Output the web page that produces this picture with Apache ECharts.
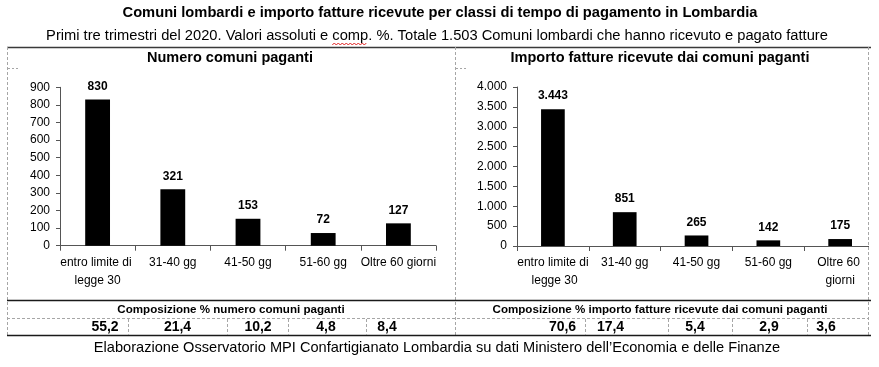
<!DOCTYPE html>
<html><head><meta charset="utf-8">
<script src="https://cdn.jsdelivr.net/npm/echarts@6/dist/echarts.min.js"></script>
<style>html,body{margin:0;padding:0;background:#fff}#c{width:879px;height:367px}</style>
</head><body><div id="c"></div>
<script>
// ---- data ----
const categories = ['entro limite di legge 30', '31-40 gg', '41-50 gg', '51-60 gg', 'Oltre 60 giorni'];
const numeroComuni = [830, 321, 153, 72, 127];
const importoFatture = [3443, 851, 265, 142, 175];
const compNumero = [55.2, 21.4, 10.2, 4.8, 8.4];
const compImporto = [70.6, 17.4, 5.4, 2.9, 3.6];
const leftAxisMax = 900, leftAxisStep = 100;
const rightAxisMax = 4000, rightAxisStep = 500;
const mainTitle = 'Comuni lombardi e importo fatture ricevute per classi di tempo di pagamento in Lombardia';
const subTitle = 'Primi tre trimestri del 2020. Valori assoluti e comp. %. Totale 1.503 Comuni lombardi che hanno ricevuto e pagato fatture';
const leftTitle = 'Numero comuni paganti';
const rightTitle = 'Importo fatture ricevute dai comuni paganti';
const leftTableTitle = 'Composizione % numero comuni paganti';
const rightTableTitle = 'Composizione % importo fatture ricevute dai comuni paganti';
const footer = 'Elaborazione Osservatorio MPI Confartigianato Lombardia su dati Ministero dell\u2019Economia e delle Finanze';

// ---- helpers ----
const FF = "'Liberation Sans', Arial, sans-serif";
const itNum = v => String(v).replace(/\B(?=(\d{3})+(?!\d))/g, '.');
const itDec = v => v.toFixed(1).replace('.', ',');

const chart = echarts.init(document.getElementById('c'), null, {renderer: 'canvas'});

function txt(text, x, y, size, bold, align) {
  return {type: 'text', x: x, y: y, z: 110, silent: true,
    style: {text: text, fill: '#000', fontSize: size, fontWeight: bold ? 'bold' : 'normal',
      fontFamily: FF, align: align || 'center', verticalAlign: 'middle'}};
}
function ln(x1, y1, x2, y2, stroke, w, dash) {
  return {type: 'line', z: 105, silent: true, shape: {x1, y1, x2, y2},
    style: {stroke: stroke, lineWidth: w, lineDash: dash || null}};
}

const SUB_SIZE = 14.7;
const graphics = [];
graphics.push(txt(mainTitle, 440, 13, 14.7, true));
graphics.push(txt(subTitle, 437, 36, SUB_SIZE, false));
graphics.push(txt(leftTitle, 230, 58, 14.5, true));
graphics.push(txt(rightTitle, 660, 58, 14.5, true));
graphics.push(txt(leftTableTitle, 231, 310, 11.6, true));
graphics.push(txt(rightTableTitle, 660, 310, 11.6, true));
graphics.push(txt(footer, 437, 348, 14.6, false));

// spell-check squiggle under "comp"
(function () {
  const cv = document.createElement('canvas').getContext('2d');
  cv.font = SUB_SIZE + 'px ' + FF;
  const full = cv.measureText(subTitle).width;
  const pre = cv.measureText('Primi tre trimestri del 2020. Valori assoluti e ').width;
  const w = cv.measureText('comp').width;
  const x0 = 437 - full / 2 + pre;
  const pts = [];
  for (let x = 0, i = 0; x <= w; x += 2, i++) pts.push([x0 + x, 44 + (i % 2 ? -1 : 1)]);
  graphics.push({type: 'polyline', z: 106, silent: true, shape: {points: pts},
    style: {stroke: '#e02020', lineWidth: 1, fill: null}});
})();

// frame lines
const DASH = '#a6a6a6';
graphics.push(ln(7, 47.5, 871, 47.5, '#3a3a3a', 1.5));
graphics.push(ln(7.5, 47, 7.5, 336, DASH, 1, [3, 2]));
graphics.push(ln(455.5, 47, 455.5, 336, DASH, 1, [3, 2]));
graphics.push(ln(868.5, 47, 868.5, 336, DASH, 1, [3, 2]));
graphics.push(ln(8, 68.5, 19, 68.5, DASH, 1, [2, 2]));
graphics.push(ln(456, 68.5, 468, 68.5, DASH, 1, [2, 2]));
graphics.push(ln(7, 300.5, 871, 300.5, '#1a1a1a', 1.5));
graphics.push(ln(7, 318.5, 868, 318.5, DASH, 1, [3, 2]));
graphics.push(ln(7, 335.5, 871, 335.5, '#1a1a1a', 1.5));
[128, 227, 288, 366, 585, 668, 732, 807].forEach(x => graphics.push(ln(x + 0.5, 319, x + 0.5, 335, DASH, 1, [3, 2])));

// table values
const leftCellX = [105, 177.5, 258, 326, 387];
const rightCellX = [562.5, 610.5, 695, 769, 826];
compNumero.forEach((v, i) => graphics.push(txt(itDec(v), leftCellX[i], 327, 14, true)));
compImporto.forEach((v, i) => graphics.push(txt(itDec(v), rightCellX[i], 327, 14, true)));

// cover the axis overflow past the right panel border
graphics.push({type: 'rect', z: 100, silent: true, shape: {x: 869, y: 243, width: 12, height: 10}, style: {fill: '#fff'}});

function xAx(idx, w) {
  return {type: 'category', gridIndex: idx, data: categories,
    axisLine: {lineStyle: {color: '#555', width: 1}},
    axisTick: {show: true, length: 5, lineStyle: {color: '#555'}},
    axisLabel: {interval: 0, color: '#000', fontSize: 12, fontFamily: FF, margin: 8,
      lineHeight: 18, width: w, overflow: 'break'}};
}
function yAx(idx, max, step, fmt) {
  return {type: 'value', gridIndex: idx, min: 0, max: max, interval: step,
    axisLine: {show: true, lineStyle: {color: '#555', width: 1}},
    axisTick: {show: true, length: 4, lineStyle: {color: '#555'}},
    splitLine: {show: false},
    axisLabel: {color: '#000', fontSize: 12, fontFamily: FF, margin: 10, formatter: fmt}};
}
function barS(idx, data, fmt) {
  return {type: 'bar', xAxisIndex: idx, yAxisIndex: idx, data: data, barWidth: '33%',
    itemStyle: {color: '#000'}, animation: false,
    label: {show: true, position: 'top', distance: 7, color: '#000', fontWeight: 'bold',
      fontSize: 12, fontFamily: FF, formatter: p => fmt(p.value)}};
}

chart.setOption({
  animation: false,
  backgroundColor: '#fff',
  grid: [
    {left: 60, top: 87.3, width: 376, height: 158.4},
    {left: 517, top: 87, width: 365.5, height: 159}
  ],
  xAxis: [xAx(0, 90), xAx(1, 73)],
  yAxis: [yAx(0, leftAxisMax, leftAxisStep, v => String(v)), yAx(1, rightAxisMax, rightAxisStep, v => itNum(v))],
  series: [barS(0, numeroComuni, v => String(v)), barS(1, importoFatture, itNum)],
  graphic: graphics
});
</script></body></html>
